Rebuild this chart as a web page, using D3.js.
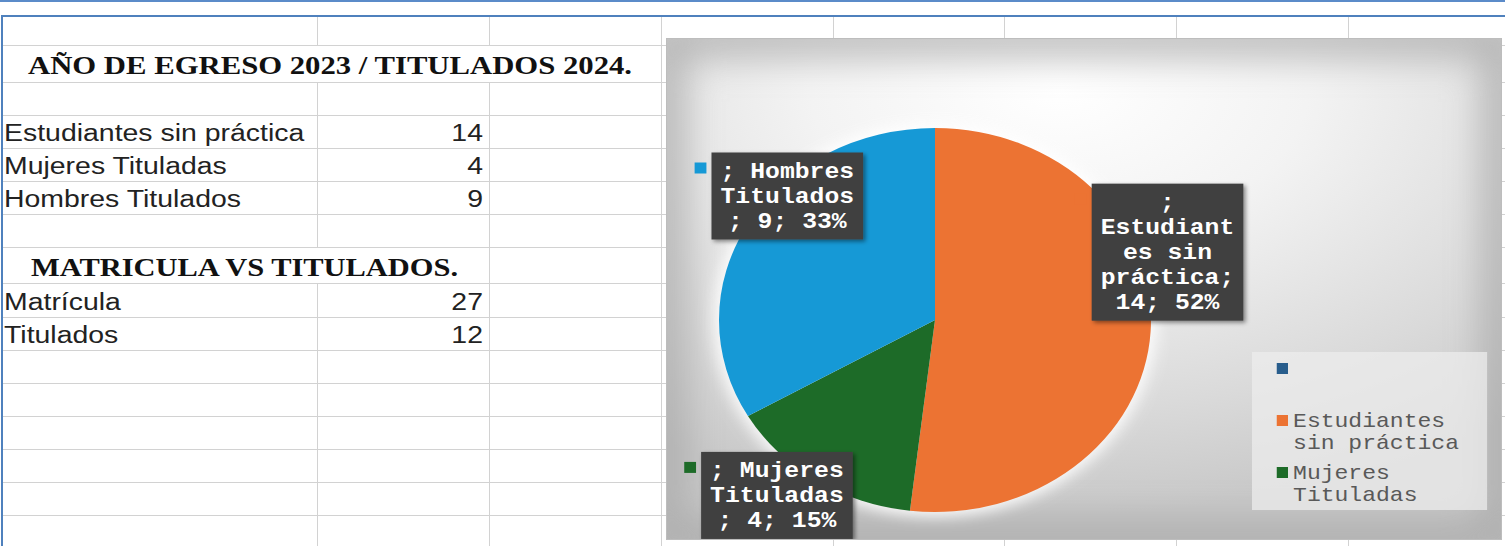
<!DOCTYPE html>
<html>
<head>
<meta charset="utf-8">
<script src="https://cdn.jsdelivr.net/npm/d3@7"></script>
<style>
html, body { margin: 0; padding: 0; background: #fff; overflow: hidden; }
</style>
</head>
<body>
<div id="chart"></div>
<script>
// tablas de la hoja
var titulo1 = "AÑO DE EGRESO 2023 / TITULADOS 2024.";
var tabla1Nombres = ["Estudiantes sin práctica", "Mujeres Tituladas", "Hombres Titulados"];
var tabla1Valores = [14, 4, 9];
var titulo2 = "MATRICULA VS TITULADOS.";
var tabla2Nombres = ["Matrícula", "Titulados"];
var tabla2Valores = [27, 12];

// datos del grafico (la primera categoria viene vacia)
var categorias = ["", "Estudiantes sin práctica", "Mujeres Tituladas", "Hombres Titulados"];
var valores = [0, 14, 4, 9];
var colores = ["#285d8c", "#ec7333", "#1d6b28", "#1699d6"];

var W = 1505, H = 546;
var filas = [16, 45, 82, 115, 148, 181, 214, 247, 283, 317, 350, 383, 416, 449, 482, 515, 546];
var columnas = [317, 489, 661, 833, 1004, 1176, 1348];

var svg = d3.select("#chart").append("svg")
	.attr("width", W)
	.attr("height", H);

var defs = svg.append("defs");

var grad = defs.append("radialGradient")
	.attr("id", "fondo")
	.attr("cx", 0.47).attr("cy", 0.1).attr("r", 0.85);
grad.append("stop").attr("offset", 0).attr("stop-color", "#ffffff");
grad.append("stop").attr("offset", 0.35).attr("stop-color", "#f3f3f3");
grad.append("stop").attr("offset", 0.75).attr("stop-color", "#dadada");
grad.append("stop").attr("offset", 1).attr("stop-color", "#c8c8c8");

defs.append("filter").attr("id", "borroso").attr("x", -0.3).attr("y", -0.3).attr("width", 1.6).attr("height", 1.6)
	.append("feGaussianBlur").attr("stdDeviation", 18);
defs.append("filter").attr("id", "halo").attr("x", -0.3).attr("y", -0.3).attr("width", 1.6).attr("height", 1.6)
	.append("feGaussianBlur").attr("stdDeviation", 7);
defs.append("filter").attr("id", "sombra").attr("x", -0.2).attr("y", -0.2).attr("width", 1.4).attr("height", 1.4)
	.append("feDropShadow").attr("dx", 2).attr("dy", 2).attr("stdDeviation", 2)
	.attr("flood-color", "#000").attr("flood-opacity", 0.45);

var cx0 = 666, cy0 = 38, cw = 836, ch = 502;
defs.append("clipPath").attr("id", "clipGrafico")
	.append("rect").attr("x", cx0).attr("y", cy0).attr("width", cw).attr("height", ch);

// ---- hoja de calculo ----
svg.append("line").attr("x1", 0).attr("x2", W).attr("y1", 1).attr("y2", 1)
	.style("stroke", "#5b8bc9").style("stroke-width", 2);

var rejilla = svg.append("g").style("stroke", "#d2d2d2").style("stroke-width", 1);

for (var i = 1; i < filas.length - 1; i++) {
	rejilla.append("line")
		.attr("x1", 3).attr("x2", W)
		.attr("y1", filas[i] + 0.5).attr("y2", filas[i] + 0.5);
}

for (var i = 0; i < filas.length - 1; i++) {
	for (var j = 0; j < columnas.length; j++) {
		// el texto de los titulos tapa la rejilla
		if (i == 1 && j < 2) continue;
		if (i == 7 && j < 1) continue;
		rejilla.append("line")
			.attr("x1", columnas[j] + 0.5).attr("x2", columnas[j] + 0.5)
			.attr("y1", filas[i]).attr("y2", filas[i + 1]);
	}
}

svg.append("line").attr("x1", 1).attr("x2", W).attr("y1", 16).attr("y2", 16)
	.style("stroke", "#4f81bd").style("stroke-width", 2);
svg.append("line").attr("x1", 2).attr("x2", 2).attr("y1", 15).attr("y2", H)
	.style("stroke", "#4f81bd").style("stroke-width", 2);

var sx = 1.21;

function titulo(txt, x, y, largo) {
	svg.append("text")
		.attr("x", x).attr("y", y)
		.attr("textLength", largo)
		.attr("lengthAdjust", "spacingAndGlyphs")
		.style("font-family", "'Times New Roman', 'Liberation Serif', serif")
		.style("font-weight", "bold")
		.style("font-size", "26px")
		.style("fill", "#111")
		.text(txt);
}

function tabla(nombres, vals, filaInicio) {
	for (var i = 0; i < nombres.length; i++) {
		var y = filas[filaInicio + i + 1] - 7;
		svg.append("text")
			.attr("transform", "translate(4," + y + ") scale(" + sx + ",1)")
			.style("font-family", "Arial, 'Liberation Sans', sans-serif")
			.style("font-size", "23.5px")
			.style("fill", "#222")
			.text(nombres[i]);
		svg.append("text")
			.attr("transform", "translate(483," + y + ") scale(" + sx + ",1)")
			.attr("text-anchor", "end")
			.style("font-family", "Arial, 'Liberation Sans', sans-serif")
			.style("font-size", "23.5px")
			.style("fill", "#222")
			.text(vals[i]);
	}
}

titulo(titulo1, 28, filas[2] - 8, 604);
tabla(tabla1Nombres, tabla1Valores, 3);
titulo(titulo2, 31, filas[8] - 7, 427);
tabla(tabla2Nombres, tabla2Valores, 8);

// ---- grafico circular ----
var g = svg.append("g").attr("clip-path", "url(#clipGrafico)");

g.append("rect")
	.attr("x", cx0).attr("y", cy0).attr("width", cw).attr("height", ch)
	.attr("fill", "url(#fondo)");
g.append("rect")
	.attr("x", cx0).attr("y", cy0).attr("width", cw).attr("height", ch)
	.attr("fill", "none")
	.style("stroke", "#a4a4a4").style("stroke-width", 40)
	.style("opacity", 0.7)
	.attr("filter", "url(#borroso)");

var R = 192;
var estirar = 1.125;
var centro = g.append("g").attr("transform", "translate(935,320) scale(" + estirar + ",1)");

var datos = categorias.map(function(c, i) { return {cat: c, valor: valores[i]}; });
var pie = d3.pie().sort(null).value(function(d) { return d.valor; });
var arcos = pie(datos);
var total = d3.sum(valores);
var color = d3.scaleOrdinal().domain(categorias).range(colores);
var arc = d3.arc().innerRadius(0).outerRadius(R);
var borde = d3.arc().innerRadius(R).outerRadius(R);
var pct = d3.format(".0%");

centro.append("circle").attr("r", R + 5)
	.attr("fill", "#fff").style("opacity", 0.9)
	.attr("filter", "url(#halo)");

centro.selectAll("path.rebanada")
	.data(arcos)
	.enter()
	.append("path")
	.attr("class", "rebanada")
	.attr("d", arc)
	.attr("fill", function(d) { return color(d.data.cat); });

// corte de lineas como lo hace excel
function partir(txt, max) {
	var palabras = txt.split(" ");
	var lineas = [];
	var cur = "";
	for (var i = 0; i < palabras.length; i++) {
		var w = palabras[i];
		var cand = cur ? cur + " " + w : w;
		if (cand.length <= max) { cur = cand; continue; }
		if (cur) { lineas.push(cur); cur = ""; }
		if (w.length > max && w[w.length - 1] == ";" && w.length - 1 <= max) {
			lineas.push(w.slice(0, -1));
			cur = ";";
			continue;
		}
		while (w.length > max) {
			lineas.push(w.slice(0, max));
			w = w.slice(max);
		}
		cur = w;
	}
	if (cur) lineas.push(cur);
	return lineas;
}

var ajuste = {
	"Estudiantes sin práctica": [15, -79],
	"Mujeres Tituladas": [-35, 15],
	"Hombres Titulados": [35, -28]
};

var charW = 13.2, lineaH = 25, pad = 6;

arcos.filter(function(d) { return d.value > 0; }).forEach(function(d) {
	var txt = "; " + d.data.cat + "; " + d.value + "; " + pct(d.value / total);
	var lineas = partir(txt, 9);
	var p = borde.centroid(d);
	var a = ajuste[d.data.cat];
	var cx = p[0] + a[0], cy = p[1] + a[1];
	var w = d3.max(lineas, function(l) { return l.length; }) * charW + 16;
	var h = lineas.length * lineaH + pad * 2;
	var x = cx - w / 2, y = cy - h / 2;

	centro.append("rect")
		.attr("x", x - 15).attr("y", y + 10)
		.attr("width", 10.5).attr("height", 11)
		.attr("fill", color(d.data.cat));

	centro.append("rect")
		.attr("x", x).attr("y", y)
		.attr("width", w).attr("height", h)
		.attr("fill", "#404040")
		.attr("filter", "url(#sombra)");

	for (var i = 0; i < lineas.length; i++) {
		centro.append("text")
			.attr("x", cx)
			.attr("y", y + pad + 19 + i * lineaH)
			.attr("text-anchor", "middle")
			.style("font-family", "'Courier New', 'Liberation Mono', monospace")
			.style("font-weight", "bold")
			.style("font-size", "22px")
			.style("fill", "#fff")
			.text(lineas[i]);
	}
});

// leyenda (solo caben tres entradas)
var ley = g.append("g").attr("transform", "translate(1252,352) scale(" + estirar + ",1)");
ley.append("rect")
	.attr("width", 209).attr("height", 158)
	.attr("fill", "#ececec").style("opacity", 0.75);

var entradas = categorias.slice(0, 3);
entradas.forEach(function(c, i) {
	var top = 11 + i * 52;
	ley.append("rect")
		.attr("x", 22).attr("y", top)
		.attr("width", 10).attr("height", 11)
		.attr("fill", color(c));
	var lineas = partir(c, 12);
	for (var k = 0; k < lineas.length; k++) {
		ley.append("text")
			.attr("x", 36.5)
			.attr("y", top + 12 + k * 22)
			.style("font-family", "'Courier New', 'Liberation Mono', monospace")
			.style("font-size", "20.5px")
			.style("fill", "#595959")
			.text(lineas[k]);
	}
});

svg.append("rect")
	.attr("x", cx0 + 0.5).attr("y", cy0 + 0.5).attr("width", cw - 1).attr("height", ch - 1)
	.attr("fill", "none")
	.style("stroke", "#bdbdbd");
</script>
</body>
</html>
